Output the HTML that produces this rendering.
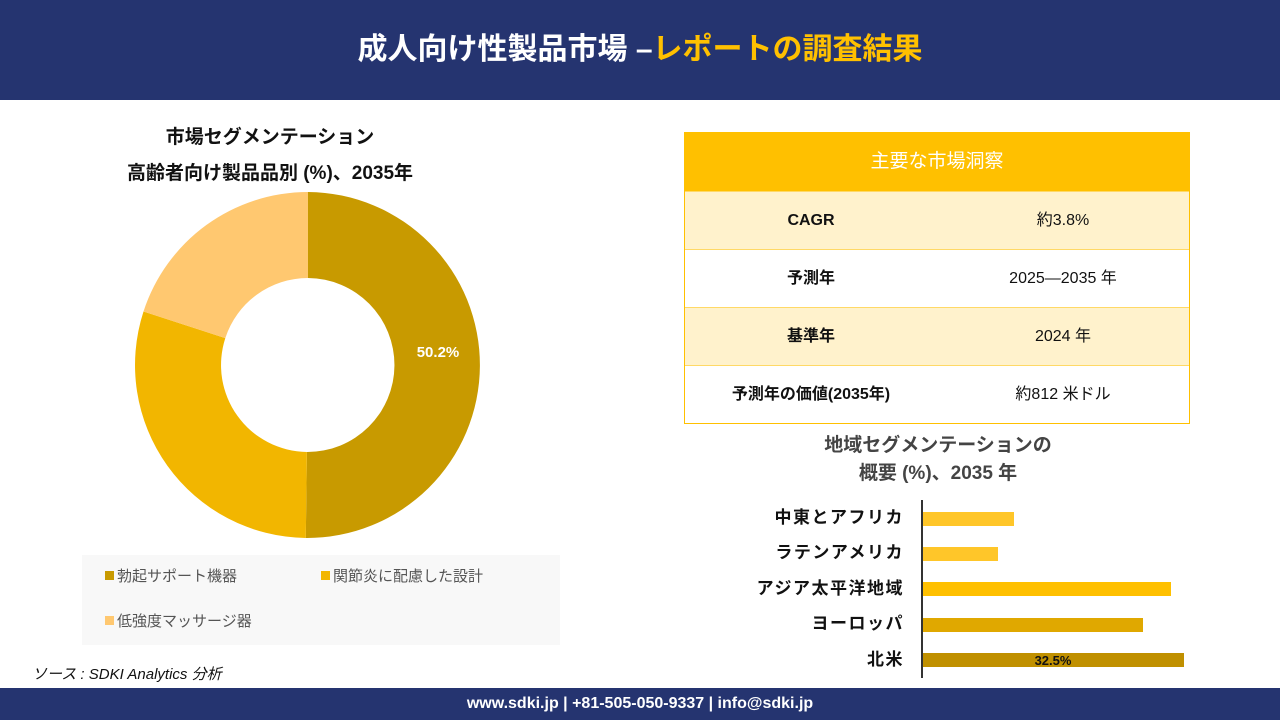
<!DOCTYPE html>
<html><head><meta charset="utf-8"><style>
body{margin:0;width:1280px;height:720px;position:relative;background:#fff;font-family:"Liberation Sans","Noto Sans CJK JP",sans-serif;overflow:hidden}
.hdr{position:absolute;left:0;top:0;width:1280px;height:100px;background:#253470;color:#fff;font-size:30px;font-weight:bold;text-align:center;line-height:100px}
.hdr span{color:#FFC000}
.ftr{position:absolute;left:0;top:688px;width:1280px;height:32px;background:#253470;color:#fff;font-size:16px;font-weight:bold;text-align:center;line-height:32px}
.abs{position:absolute}
.t{position:absolute;left:684px;top:132px;width:506px;border:1px solid #FFC000;box-sizing:border-box}
.t div{height:58px;display:flex;align-items:center;font-size:16px;line-height:20px;color:#111;border-top:1px solid #FFD966;box-sizing:border-box}
.t div span{flex:1;text-align:center;display:block}
.t div span:first-child{font-weight:bold}
</style></head><body>
<div class="hdr">成人向け性製品市場 –<span>レポートの調査結果</span></div>
<div class="abs" style="left:20px;top:120px;width:500px;text-align:center;font-size:19px;font-weight:bold;line-height:36px;color:#111">市場セグメンテーション<br>高齢者向け製品品別 (%)、2035年</div>
<svg class="abs" style="left:0;top:0" width="640" height="688">
<path d="M308,192 A173,173 0 0 1 305.8,538 L306.9,452 A87,87 0 0 0 308,278 Z" fill="#C89A00"/>
<path d="M305.8,538 A173,173 0 0 1 143.5,311.5 L225.3,338.1 A87,87 0 0 0 306.9,452 Z" fill="#F2B600"/>
<path d="M143.5,311.5 A173,173 0 0 1 308,192 L308,278 A87,87 0 0 0 225.3,338.1 Z" fill="#FFC870"/>
<text x="438" y="357" fill="#fff" font-size="15" font-weight="bold" text-anchor="middle" font-family="Liberation Sans">50.2%</text>
<rect x="82" y="555" width="478" height="90" fill="#f8f8f8"/>
<rect x="105" y="571" width="9" height="9" fill="#C89A00"/>
<text x="117" y="581" font-size="15" fill="#555">勃起サポート機器</text>
<rect x="321" y="571" width="9" height="9" fill="#F2B600"/>
<text x="333" y="581" font-size="15" fill="#555">関節炎に配慮した設計</text>
<rect x="105" y="616" width="9" height="9" fill="#FFC870"/>
<text x="117" y="626" font-size="15" fill="#555">低強度マッサージ器</text>
<text x="32" y="679" font-size="15" font-style="italic" fill="#111">ソース : SDKI Analytics 分析</text>
</svg>
<div class="t">
<div style="border-top:none;background:#FFC000;color:#fff;font-size:19px;justify-content:center">主要な市場洞察</div>
<div style="background:#FFF2CC"><span>CAGR</span><span style="font-weight:normal">約3.8%</span></div>
<div><span>予測年</span><span style="font-weight:normal">2025—2035 年</span></div>
<div style="background:#FFF2CC"><span>基準年</span><span style="font-weight:normal">2024 年</span></div>
<div><span>予測年の価値(2035年)</span><span style="font-weight:normal">約812 米ドル</span></div>
</div>
<div class="abs" style="left:738px;top:432px;width:400px;text-align:center;font-size:19px;font-weight:bold;line-height:28px;color:#444">地域セグメンテーションの<br>概要 (%)、2035 年</div>
<svg class="abs" style="left:640px;top:490px" width="640" height="198">
<g font-size="17" font-weight="bold" text-anchor="end" fill="#111" letter-spacing="1.5">
<text x="264" y="33">中東とアフリカ</text>
<text x="264" y="68">ラテンアメリカ</text>
<text x="264" y="104">アジア太平洋地域</text>
<text x="264" y="139">ヨーロッパ</text>
<text x="264" y="175">北米</text>
</g>
<rect x="282" y="22" width="92" height="14" fill="#FFC629"/>
<rect x="282" y="57" width="76" height="14" fill="#FFC629"/>
<rect x="282" y="92" width="249" height="14" fill="#FFC000"/>
<rect x="282" y="128" width="221" height="14" fill="#E0A800"/>
<rect x="282" y="163" width="262" height="14" fill="#C09000"/>
<text x="413" y="175" font-size="13" font-weight="bold" text-anchor="middle" fill="#111" font-family="Liberation Sans">32.5%</text>
<line x1="282" y1="10" x2="282" y2="188" stroke="#333" stroke-width="2"/>
</svg>
<div class="ftr">www.sdki.jp | +81-505-050-9337 | info@sdki.jp</div>
</body></html>
